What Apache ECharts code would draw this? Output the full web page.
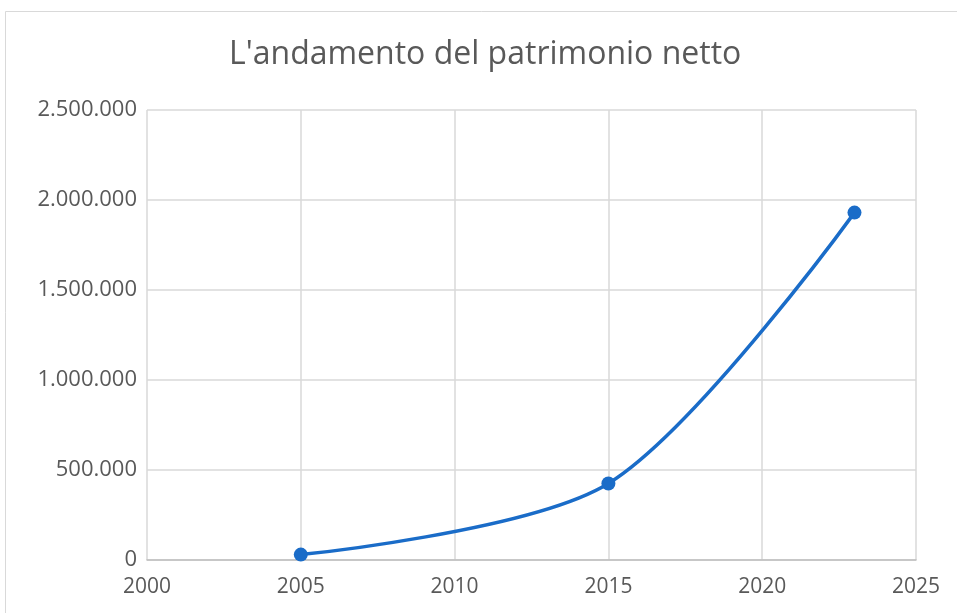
<!DOCTYPE html>
<html><head><meta charset="utf-8">
<script src="https://cdn.jsdelivr.net/npm/echarts@6/dist/echarts.min.js"></script>
<style>html,body{margin:0;padding:0;background:#fff}#c{width:957px;height:613px}</style>
</head><body><div id="c"></div>
<script>
const titleText = "L'andamento del patrimonio netto";
const years = [2005, 2015, 2023];
const values = [30000, 425000, 1930000];

const chart = echarts.init(document.getElementById('c'));
const fmt = v => String(v).replace(/\B(?=(\d{3})+(?!\d))/g, '.');
chart.setOption({
  animation: false,
  backgroundColor: '#fff',
  title: { text: titleText, left: 224, top: 34,
    textStyle: { fontFamily: 'Open Sans', fontWeight: 'normal', fontSize: 32, color: '#595959' } },
  graphic: [{ type: 'rect', shape: { x: 5.5, y: 11.5, width: 1000, height: 700 },
    style: { fill: 'none', stroke: '#d9d9d9', lineWidth: 1 }, silent: true }],
  grid: { left: 147, right: 41, top: 110, bottom: 53, containLabel: false },
  xAxis: { type: 'value', min: 2000, max: 2025, interval: 5,
    axisLine: { show: true, lineStyle: { color: '#bfbfbf', width: 1.5 } },
    axisTick: { show: false },
    splitLine: { show: true, lineStyle: { color: '#d9d9d9', width: 1.5 } },
    axisLabel: { color: '#595959', fontFamily: 'Open Sans', fontSize: 21, margin: 17, formatter: v => String(v) } },
  yAxis: { type: 'value', min: 0, max: 2500000, interval: 500000,
    axisLine: { show: false }, axisTick: { show: false },
    splitLine: { show: true, lineStyle: { color: '#d9d9d9', width: 1.5 } },
    axisLabel: { color: '#595959', fontFamily: 'Open Sans', fontSize: 22, margin: 10, formatter: fmt } },
  series: [{ type: 'line', data: years.map((y, i) => [y, values[i]]), smooth: 0.3,
    symbol: 'circle', symbolSize: 14,
    lineStyle: { color: '#1a6cc8', width: 3.5 },
    itemStyle: { color: '#1a6cc8' } }]
});
</script></body></html>
